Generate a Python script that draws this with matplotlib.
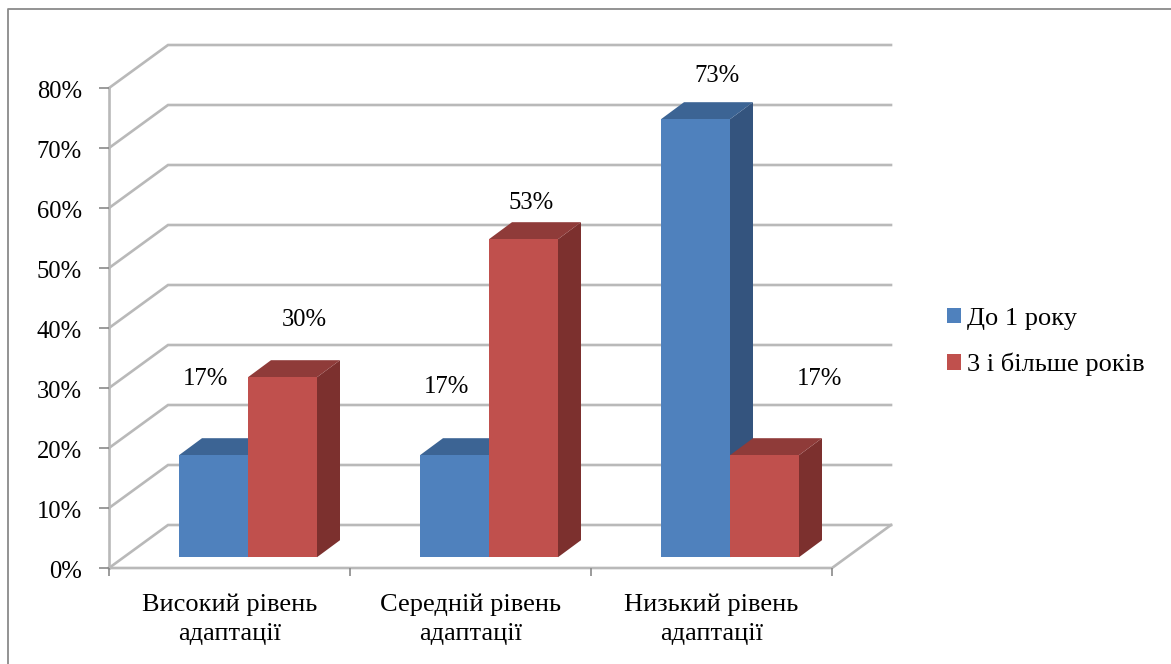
import matplotlib
matplotlib.use("Agg")
import matplotlib.pyplot as plt
from matplotlib.patches import Patch, Polygon
from matplotlib.transforms import ScaledTranslation

plt.rcParams["font.family"] = ["Liberation Serif", "DejaVu Serif"]

categories = ["Високий рівень\nадаптації", "Середній рівень\nадаптації", "Низький рівень\nадаптації"]
series_names = ["До 1 року", "3 і більше років"]
under_one_year = [17, 17, 73]
three_plus_years = [30, 53, 17]
value_ticks = [0, 10, 20, 30, 40, 50, 60, 70, 80]

W, H = 1171, 664
X0, X1, Y0, Y1 = 109, 832, 568, 88
FONT = 17.7
FONT_TEXT = 19
GRID = "#b9b9b9"
EDGE = "#8a8a8a"
FRONT = ("#4f81bd", "#c0504d")
TOP = ("#3c6494", "#8f3b39")
SIDE = ("#34547e", "#7c302e")

# one category is 241 px wide, one percent is 6 px tall
WALL_DX, WALL_DY = 59 / 241, 43 / 6
BAR_DX, BAR_DY = 23 / 241, 17 / 6
BAR_W, BAR_START, BAR_FLOOR = 69 / 241, 70 / 241, 1.8

# label offsets from the top centre of each bar, in pixels
OFFSETS = [[(-8, 76), (-8, 68), (22, 43)], [(22, 57), (8, 36), (55, 76)]]

fig = plt.figure(figsize=(W / 100, H / 100), dpi=100)
fig.patch.set_facecolor("white")
ax = fig.add_axes([X0 / W, 1 - Y0 / H, (X1 - X0) / W, (Y0 - Y1) / H])
ax.set_xlim(0, len(categories))
ax.set_ylim(0, value_ticks[-1])
ax.patch.set_visible(False)
for spine in ax.spines.values():
    spine.set_visible(False)

# outer frame of the chart area
fig.add_artist(plt.Line2D([7.5 / W, 7.5 / W, 1.0], [0, 1 - 8.5 / H, 1 - 8.5 / H],
                          color=EDGE, lw=1.3, transform=fig.transFigure))

# gridlines run from the front axis across the side wall and along the back wall
n = len(categories)
for v in value_ticks:
    ax.plot([0, WALL_DX, n + WALL_DX], [v, v + WALL_DY, v + WALL_DY],
            color=GRID, lw=1.9, clip_on=False, zorder=1, solid_joinstyle="miter")
ax.plot([0, 0], [0, value_ticks[-1]], color=GRID, lw=1.9, clip_on=False, zorder=1)
ax.plot([0, n, n + WALL_DX], [0, 0, WALL_DY], color=GRID, lw=1.9, clip_on=False, zorder=1)

# three-dimensional bars: side and top faces first, then the front
for g in range(n):
    for s, values in enumerate((under_one_year, three_plus_years)):
        left = g + BAR_START + s * BAR_W
        right = left + BAR_W
        top = BAR_FLOOR + values[g]
        z = 3 + s
        ax.add_patch(Polygon([(right, BAR_FLOOR), (right + BAR_DX, BAR_FLOOR + BAR_DY),
                              (right + BAR_DX, top + BAR_DY), (right, top)],
                             fc=SIDE[s], ec="none", clip_on=False, zorder=z))
        ax.add_patch(Polygon([(left, top), (left + BAR_DX, top + BAR_DY),
                              (right + BAR_DX, top + BAR_DY), (right, top)],
                             fc=TOP[s], ec="none", clip_on=False, zorder=z))
        ax.bar(left, values[g], BAR_W, bottom=BAR_FLOOR, align="edge",
               color=FRONT[s], zorder=z, clip_on=False)
        dx, dy = OFFSETS[s][g]
        ax.annotate(f"{values[g]}%", (left + BAR_W / 2, top), xytext=(dx, dy),
                    textcoords="offset pixels", ha="center", va="center",
                    fontsize=FONT, color="black", zorder=6)

# axes ticks and labels
ax.set_yticks(value_ticks, [f"{v}%" for v in value_ticks])
ax.tick_params(axis="y", length=7, width=1.2, color=EDGE, pad=12.5, labelsize=FONT)
nudge = ScaledTranslation(0, -2 / 100, fig.dpi_scale_trans)
for label in ax.get_yticklabels():
    label.set_transform(label.get_transform() + nudge)
ax.set_xticks(range(n + 1), [""] * (n + 1))
ax.tick_params(axis="x", which="major", length=6, width=1.2, color=EDGE)
ax.set_xticks([i + 0.5 for i in range(n)], categories, minor=True, linespacing=1.42)
ax.tick_params(axis="x", which="minor", length=0, pad=18.5, labelsize=FONT_TEXT)

# legend
handles = [Patch(fc=c, ec="none") for c in FRONT]
fig.legend(handles, series_names, loc="center left", bbox_to_anchor=(947 / W, 1 - 342 / H),
           frameon=False, fontsize=FONT_TEXT, handlelength=0.53, handleheight=0.53,
           handletextpad=0.23, labelspacing=0.86, borderpad=0, borderaxespad=0)

fig.savefig("out.png", dpi=100)
